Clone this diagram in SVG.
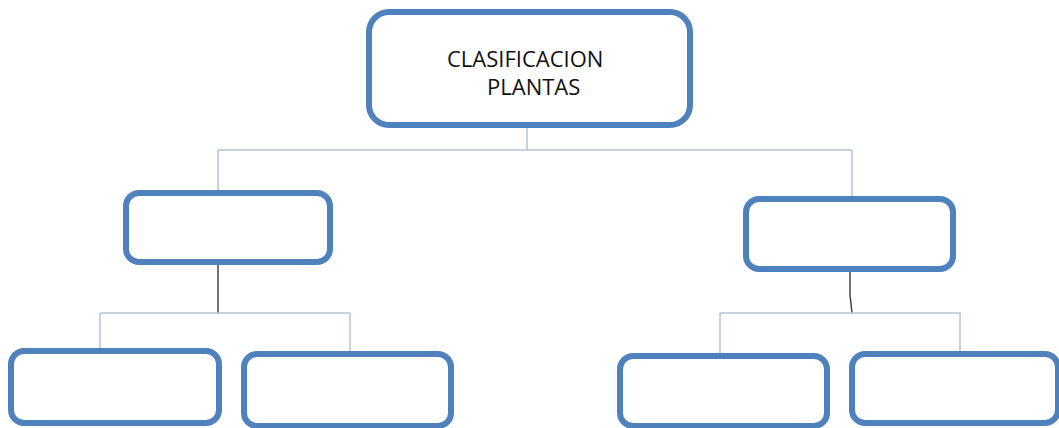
<svg xmlns="http://www.w3.org/2000/svg" width="1059" height="428" viewBox="0 0 1059 428">
<style>
.box{fill:#fff;stroke:#4f81bd;stroke-width:6}
.ln{fill:none;stroke:#b4c3d3;stroke-width:1.5}
.dk{fill:none;stroke:#444;stroke-width:1.5}
.t{font-family:"Open Sans",sans-serif;font-size:22px;fill:#111}
</style>
<rect width="1059" height="428" fill="#fff"/>
<g id="connectors">
<path class="ln" d="M527 128V150M218 150H852M218 150V190M852 150V196"/>
<path class="dk" d="M218 265V313"/>
<path class="ln" d="M100 313H350M100 313V348M350 313V351"/>
<path class="dk" d="M850 272V295L852 313"/>
<path class="ln" d="M720 313H961M720 313V353M960 313V351"/>
</g>
<g id="root">
<rect class="box" x="369" y="12" width="321" height="113" rx="20"/>
<text class="t" x="447" y="67">CLASIFICACION</text>
<text class="t" x="487" y="95">PLANTAS</text>
</g>
<g id="mid-left"><rect class="box" x="126" y="193" width="204" height="69" rx="13"/></g>
<g id="mid-right"><rect class="box" x="746" y="199" width="207" height="70" rx="13"/></g>
<g id="leaf-1"><rect class="box" x="11" y="351" width="208" height="72" rx="13"/></g>
<g id="leaf-2"><rect class="box" x="244" y="354" width="207" height="72" rx="13"/></g>
<g id="leaf-3"><rect class="box" x="620" y="356" width="207" height="70" rx="13"/></g>
<g id="leaf-4"><rect class="box" x="852" y="354" width="206" height="69" rx="13"/></g>
</svg>
